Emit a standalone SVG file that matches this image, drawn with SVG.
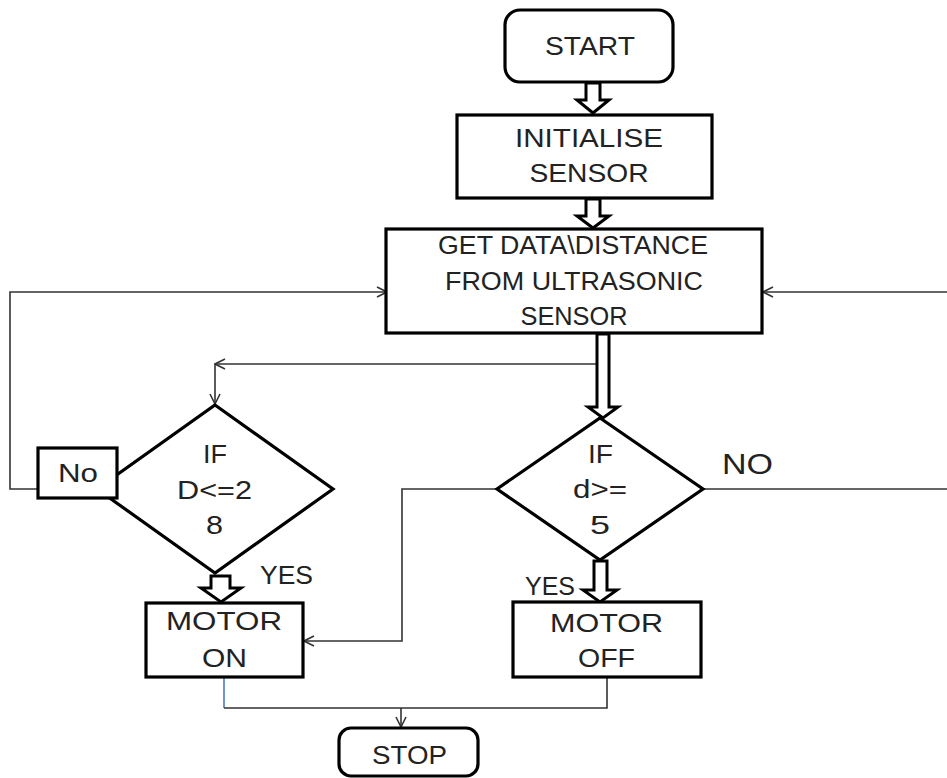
<svg xmlns="http://www.w3.org/2000/svg" width="947" height="778" viewBox="0 0 947 778">
<defs>
<style>
.box{fill:#fff;stroke:#000;stroke-width:3.2}
.blk{fill:#fff;stroke:#000;stroke-width:3;stroke-linejoin:miter}
.ln{fill:none;stroke:#333;stroke-width:1.6}
.t{font-family:"Liberation Sans",Arial,sans-serif;font-size:25px;fill:#222;text-anchor:middle}
.big{font-size:29px}
</style>
<marker id="oa" viewBox="0 0 12 12" refX="11" refY="6" markerWidth="12" markerHeight="12" markerUnits="userSpaceOnUse" orient="auto">
<path d="M1,1 L11,6 L1,11" fill="none" stroke="#333" stroke-width="1.6"/>
</marker>
</defs>
<rect width="947" height="778" fill="#fff"/>

<g id="connectors">
<!-- left loop from No -->
<path class="ln" d="M38,489 H10 V292 H387" marker-end="url(#oa)"/>
<!-- right loop from NO -->
<path class="ln" d="M703,489 H947"/>
<path class="ln" d="M947,292 H763" marker-end="url(#oa)"/>
<!-- branch to diamond 1 -->
<path class="ln" d="M597,364 H215" marker-end="url(#oa)"/>
<path class="ln" d="M215,364 V404" marker-end="url(#oa)"/>
<!-- diamond 2 left to MOTOR ON -->
<path class="ln" d="M497,489 H402 V641 H304" marker-end="url(#oa)"/>
<!-- to STOP -->
<path d="M224,677 V708" fill="none" stroke="#4a7ebb" stroke-width="1.6"/>
<path class="ln" d="M224,708 H607 V677"/>
<path class="ln" d="M401,708 V727" marker-end="url(#oa)"/>
<!-- block arrows -->
<path class="blk" d="M586,83 V100 H577 L593,113 L609,100 H600 V83 Z"/>
<path class="blk" d="M586,199 V216 H577 L593,228 L609,216 H600 V199 Z"/>
<path class="blk" d="M597,334 V407 H588 L603,418 L618,407 H609 V334 Z"/>
<path class="blk" d="M594,561 V590 H583 L600,602 L617,590 H607 V561 Z"/>
<path class="blk" d="M211,576 V588 H201 L221,602 L241,588 H230 V576 Z"/>
</g>

<g id="start">
<rect class="box" x="505" y="10" width="168" height="72" rx="15"/>
<text class="t" x="590" y="55" textLength="90" lengthAdjust="spacingAndGlyphs">START</text>
</g>

<g id="init">
<rect class="box" x="457" y="115" width="255" height="83"/>
<text class="t" x="589" y="147" textLength="148" lengthAdjust="spacingAndGlyphs">INITIALISE</text>
<text class="t" x="589" y="182" textLength="119" lengthAdjust="spacingAndGlyphs">SENSOR</text>
</g>

<g id="getdata">
<rect class="box" x="386" y="229" width="376" height="104"/>
<text class="t" x="573" y="254" textLength="270" lengthAdjust="spacingAndGlyphs">GET DATA\DISTANCE</text>
<text class="t" x="574" y="290" textLength="258" lengthAdjust="spacingAndGlyphs">FROM ULTRASONIC</text>
<text class="t" x="574" y="325" textLength="107" lengthAdjust="spacingAndGlyphs">SENSOR</text>
</g>

<g id="decision1">
<polygon class="box" points="215,405 333,489 215,573 97,489"/>
<text class="t" x="215" y="463" textLength="24" lengthAdjust="spacingAndGlyphs">IF</text>
<text class="t" x="214.5" y="499" textLength="75" lengthAdjust="spacingAndGlyphs">D&lt;=2</text>
<text class="t" x="214.5" y="534" textLength="17" lengthAdjust="spacingAndGlyphs">8</text>
</g>

<g id="no-box">
<rect class="box" x="38" y="448" width="79" height="50"/>
<text class="t" x="78" y="482" textLength="40" lengthAdjust="spacingAndGlyphs">No</text>
</g>

<g id="decision2">
<polygon class="box" points="600,418 703,489 600,560 497,489"/>
<text class="t" x="600.5" y="463" textLength="25" lengthAdjust="spacingAndGlyphs">IF</text>
<text class="t" x="600" y="498" textLength="54" lengthAdjust="spacingAndGlyphs">d&gt;=</text>
<text class="t" x="600" y="534" textLength="20" lengthAdjust="spacingAndGlyphs">5</text>
</g>

<g id="labels">
<text class="t big" x="747.5" y="474" textLength="51" lengthAdjust="spacingAndGlyphs">NO</text>
<text class="t" x="286.5" y="584" textLength="53" lengthAdjust="spacingAndGlyphs">YES</text>
<text class="t" x="550" y="595" textLength="50" lengthAdjust="spacingAndGlyphs">YES</text>
</g>

<g id="motor-on">
<rect class="box" x="146" y="603" width="157" height="74"/>
<text class="t" x="224" y="630" textLength="116" lengthAdjust="spacingAndGlyphs">MOTOR</text>
<text class="t" x="224.5" y="667" textLength="45" lengthAdjust="spacingAndGlyphs">ON</text>
</g>

<g id="motor-off">
<rect class="box" x="513" y="602" width="188" height="75"/>
<text class="t" x="606.5" y="632" textLength="113" lengthAdjust="spacingAndGlyphs">MOTOR</text>
<text class="t" x="606.5" y="667" textLength="57" lengthAdjust="spacingAndGlyphs">OFF</text>
</g>

<g id="stop">
<rect class="box" x="339" y="728" width="139" height="48" rx="12"/>
<text class="t" x="409.5" y="764" textLength="75" lengthAdjust="spacingAndGlyphs">STOP</text>
</g>
</svg>
